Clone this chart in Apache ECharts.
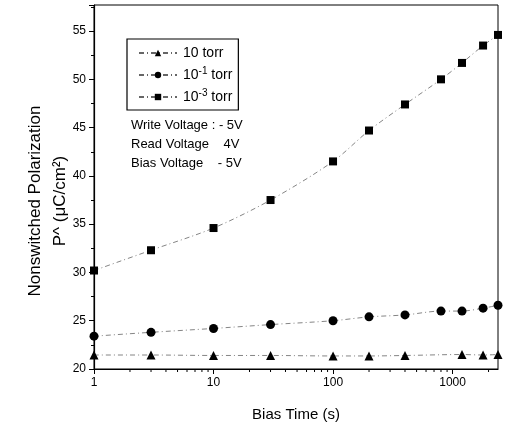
<!DOCTYPE html>
<html><head><meta charset="utf-8">
<script src="https://cdn.jsdelivr.net/npm/echarts@6/dist/echarts.min.js"></script>
<style>html,body{margin:0;padding:0;background:#fff}#c{width:510px;height:435px}</style>
</head><body><div id="c"></div>
<script>
var biasTime3 = [1, 3, 10, 30, 100, 200, 400, 800, 1200, 1800, 2400];
var p10torr = [21.45, 21.45, 21.4, 21.4, 21.35, 21.35, 21.4, null, 21.5, 21.45, 21.5];
var p1e1torr = [23.4, 23.8, 24.2, 24.6, 25.0, 25.4, 25.6, 26.0, 26.0, 26.3, 26.6];
var p1e3torr = [30.2, 32.3, 34.6, 37.5, 41.5, 44.7, 47.4, 50.0, 51.7, 53.5, 54.6];
var seriesNames = ['10 torr', '10-1 torr', '10-3 torr'];
var xTickLabels = [1, 10, 100, 1000];
var yTickLabels = [20, 25, 30, 35, 40, 45, 50, 55];
var xMinorTicks = [2,3,4,5,6,7,8,9,20,30,40,50,60,70,80,90,200,300,400,500,600,700,800,900,2000];
var notes = ['Write Voltage : - 5V', 'Read Voltage    4V', 'Bias Voltage    - 5V'];

function pairs(ys){ var out=[]; for(var i=0;i<biasTime3.length;i++){ if(ys[i]!=null) out.push([biasTime3[i], ys[i]]); } return out; }

var font = '"Liberation Sans", Arial, sans-serif';
var lineStyle = {color:'#666', width:0.8, type:[5,3,1,3]};
var chart = echarts.init(document.getElementById('c'));
var xMin = 1, xMax = 2400, yMin = 20, yMax = 57.7;
chart.setOption({
  animation:false,
  textStyle:{fontFamily:font},
  grid:{left:94, right:12, top:5, bottom:66, show:true, borderColor:'#000', borderWidth:1},
  legend:{
    left:127, top:39, orient:'vertical', itemWidth:38, itemHeight:8, itemGap:6,
    padding:[7,6,6,11], borderColor:'#000', borderWidth:1.2,
    data:seriesNames,
    formatter:function(n){ if(n==='10-1 torr') return '10{s|-1} torr'; if(n==='10-3 torr') return '10{s|-3} torr'; return n; },
    textStyle:{fontSize:14, color:'#000', fontFamily:font, padding:[0,0,0,1], rich:{s:{fontSize:10, verticalAlign:'bottom', padding:[0,0,8,0], color:'#000', fontFamily:font}}}
  },
  xAxis:{
    type:'log', logBase:10, min:xMin, max:xMax,
    name:'Bias Time (s)', nameLocation:'middle', nameGap:38,
    nameTextStyle:{fontSize:15, color:'#000', fontFamily:font},
    axisLine:{lineStyle:{color:'#000', width:1.2}},
    axisTick:{show:true, length:5, lineStyle:{color:'#000'}},
    axisLabel:{color:'#000', fontSize:12, margin:8, showMaxLabel:false,
      formatter:function(v){ return xTickLabels.indexOf(Math.round(v))>=0 ? String(Math.round(v)) : ''; }},
    splitLine:{show:false}
  },
  yAxis:{
    type:'value', min:yMin, max:yMax, interval:5,
    axisLine:{lineStyle:{color:'#000', width:1.2}},
    axisTick:{show:true, length:5, lineStyle:{color:'#000'}},
    minorTick:{show:true, splitNumber:2, length:3, lineStyle:{color:'#000'}},
    axisLabel:{color:'#000', fontSize:12, margin:8, showMaxLabel:false,
      formatter:function(v){ return yTickLabels.indexOf(v)>=0 ? String(v) : ''; }},
    splitLine:{show:false}
  },
  graphic:[
    {type:'text', x:35, y:201, rotation:Math.PI/2, style:{text:'Nonswitched Polarization', font:'17px '+font, fill:'#000', align:'center', verticalAlign:'middle'}},
    {type:'text', x:60, y:201, rotation:Math.PI/2, style:{text:'P^ (\u03bcC/cm\u00b2)', font:'17px '+font, fill:'#000', align:'center', verticalAlign:'middle'}},
    {type:'text', x:131, y:125, style:{text:notes[0], font:'13px '+font, fill:'#000', verticalAlign:'middle'}},
    {type:'text', x:131, y:144, style:{text:notes[1], font:'13px '+font, fill:'#000', verticalAlign:'middle'}},
    {type:'text', x:131, y:163, style:{text:notes[2], font:'13px '+font, fill:'#000', verticalAlign:'middle'}}
  ],
  series:[
    {name:seriesNames[0], type:'line', data:pairs(p10torr), symbol:'triangle', symbolSize:9, smooth:0.3,
      itemStyle:{color:'#000'}, lineStyle:lineStyle},
    {name:seriesNames[1], type:'line', data:pairs(p1e1torr), symbol:'circle', symbolSize:9, smooth:0.3,
      itemStyle:{color:'#000'}, lineStyle:lineStyle},
    {name:seriesNames[2], type:'line', data:pairs(p1e3torr), symbol:'rect', symbolSize:8, smooth:0.3,
      itemStyle:{color:'#000'}, lineStyle:lineStyle},
    {type:'custom', silent:true, clip:false, data:xMinorTicks.map(function(v){return [v, yMin];}),
      renderItem:function(params, api){
        var p = api.coord([api.value(0), api.value(1)]);
        return {type:'line', shape:{x1:p[0], y1:p[1], x2:p[0], y2:p[1]+3}, style:{stroke:'#000', lineWidth:1}};
      }}
  ]
});
</script></body></html>
